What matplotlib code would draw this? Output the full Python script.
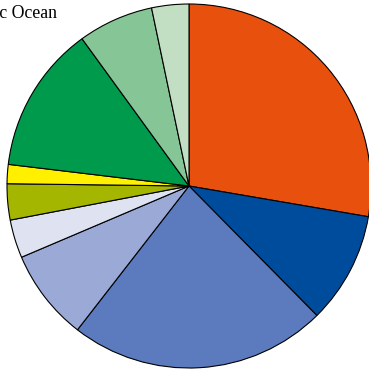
import matplotlib
matplotlib.use("Agg")
import matplotlib.pyplot as plt

# Slice shares (percent), clockwise from 12 o'clock
labels = ["A", "B", "C", "D", "E", "F", "G", "H", "I", "J"]
values = [27.7, 9.9, 22.9, 8.1, 3.4, 3.2, 1.7, 13.1, 6.7, 3.3]
colors = ["#e8500e", "#004c9c", "#5b7bbe", "#9aa9d6", "#dfe2f1",
          "#a5b600", "#fff000", "#009a4c", "#86c595", "#c2dfc3"]

W, H, DPI = 369, 373, 100
cx, cy, r = 189, 186, 182  # pie centre and radius in pixels

fig = plt.figure(figsize=(W / DPI, H / DPI), dpi=DPI)
ax = fig.add_axes([0, 0, 1, 1])
ax.pie(values, colors=colors, startangle=90, counterclock=False, radius=1,
       wedgeprops=dict(edgecolor="black", linewidth=0.8))
ax.set_xlim(-cx / r, (W - cx) / r)
ax.set_ylim(-(H - cy) / r, cy / r)
ax.set_aspect("equal")
ax.axis("off")

fig.text(57 / W, 1 - 18 / H, "Arctic Ocean", ha="right", va="baseline",
         fontsize=12.8, family="Liberation Serif", color="black")

fig.savefig("out.png", dpi=DPI)
